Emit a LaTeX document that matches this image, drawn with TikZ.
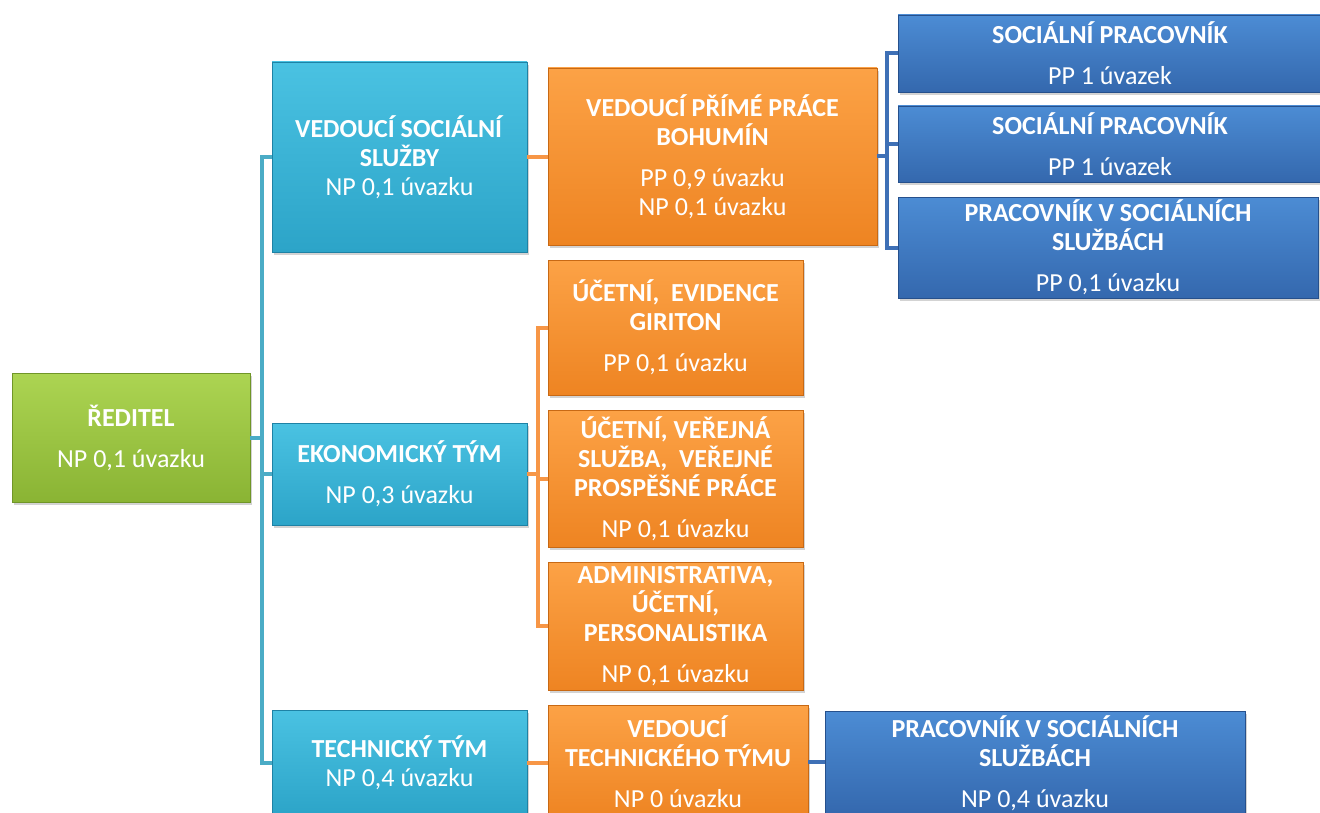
\documentclass[tikz,border=0pt]{standalone}
\usepackage{fontspec}
\setmainfont{Carlito}
\usetikzlibrary{shadows}
\definecolor{greenT}{RGB}{172,212,82}
\definecolor{greenB}{RGB}{138,180,52}
\definecolor{greenD}{RGB}{112,150,40}
\definecolor{tealT}{RGB}{74,194,226}
\definecolor{tealB}{RGB}{44,164,200}
\definecolor{tealD}{RGB}{30,130,165}
\definecolor{orangeT}{RGB}{252,162,70}
\definecolor{orangeB}{RGB}{238,132,34}
\definecolor{orangeD}{RGB}{200,105,20}
\definecolor{blueT}{RGB}{76,140,212}
\definecolor{blueB}{RGB}{52,104,174}
\definecolor{blueD}{RGB}{38,80,140}
\definecolor{tealL}{RGB}{75,172,198}
\definecolor{orangeL}{RGB}{247,150,70}
\definecolor{blueL}{RGB}{62,112,182}
\tikzset{
  box/.style={rectangle, text=white, align=center, inner sep=2pt,
    font=\fontsize{19.5}{21.75}\selectfont,
    drop shadow={shadow xshift=1.5pt, shadow yshift=-2pt, opacity=0.35}},
  boxsize/.style 2 args={minimum width=#1*0.75pt, minimum height=#2*0.75pt},
  greenbox/.style={box, top color=greenT, bottom color=greenB, draw=greenD},
  tealbox/.style={box, top color=tealT, bottom color=tealB, draw=tealD},
  orangebox/.style={box, top color=orangeT, bottom color=orangeB, draw=orangeD},
  bluebox/.style={box, top color=blueT, bottom color=blueB, draw=blueD},
  link/.style={line width=3pt},
  tline/.style={link, draw=tealL},
  oline/.style={link, draw=orangeL},
  bline/.style={link, draw=blueL}
}
\begin{document}
\begin{tikzpicture}[x=0.75pt,y=-0.75pt]
  \clip (0,0) rectangle (1320,813);
  % director
  \node[greenbox, boxsize={238}{129}] (reditel) at (131,437.5)
    {\textbf{ŘEDITEL}\\[9pt]NP 0,1 úvazku};
  % teams
  \node[tealbox, boxsize={255}{190}] (vss) at (399.5,157)
    {\textbf{VEDOUCÍ SOCIÁLNÍ}\\\textbf{SLUŽBY}\\NP 0,1 úvazku};
  \node[tealbox, boxsize={255}{102}] (ekon) at (399.5,474)
    {\textbf{EKONOMICKÝ TÝM}\\[9pt]NP 0,3 úvazku};
  \node[tealbox, boxsize={255}{106}] (tech) at (399.5,763)
    {\textbf{TECHNICKÝ TÝM}\\NP 0,4 úvazku};
  % second level
  \node[orangebox, boxsize={329}{177}] (vpp) at (712.5,156.5)
    {\textbf{VEDOUCÍ PŘÍMÉ PRÁCE}\\\textbf{BOHUMÍN}\\[9pt]PP 0,9 úvazku\\NP 0,1 úvazku};
  \node[orangebox, boxsize={255}{135}] (uc1) at (675.5,327.5)
    {\textbf{ÚČETNÍ,~ EVIDENCE}\\\textbf{GIRITON}\\[9pt]PP 0,1 úvazku};
  \node[orangebox, boxsize={255}{137}] (uc2) at (675.5,478.5)
    {\textbf{ÚČETNÍ, VEŘEJNÁ}\\\textbf{SLUŽBA,~ VEŘEJNÉ}\\\textbf{PROSPĚŠNÉ PRÁCE}\\[9pt]NP 0,1 úvazku};
  \node[orangebox, boxsize={255}{128}] (admin) at (675.5,626)
    {\textbf{ADMINISTRATIVA,}\\\textbf{ÚČETNÍ,}\\\textbf{PERSONALISTIKA}\\[9pt]NP 0,1 úvazku};
  \node[orangebox, boxsize={260}{114}] (vtt) at (678,762)
    {\textbf{VEDOUCÍ}\\\textbf{TECHNICKÉHO TÝMU}\\[9pt]NP 0 úvazku};
  % staff
  \node[bluebox, boxsize={424}{77}] (sp1) at (1110,53.5)
    {\textbf{SOCIÁLNÍ PRACOVNÍK}\\[9pt]PP 1 úvazek};
  \node[bluebox, boxsize={424}{76}] (sp2) at (1110,144)
    {\textbf{SOCIÁLNÍ PRACOVNÍK}\\[9pt]PP 1 úvazek};
  \node[bluebox, boxsize={420}{101}] (pss1) at (1108,247.5)
    {\textbf{PRACOVNÍK V SOCIÁLNÍCH}\\\textbf{SLUŽBÁCH}\\[9pt]PP 0,1 úvazku};
  \node[bluebox, boxsize={420}{104}] (pss2) at (1035,763)
    {\textbf{PRACOVNÍK V SOCIÁLNÍCH}\\\textbf{SLUŽBÁCH}\\[9pt]NP 0,4 úvazku};
  % bus points
  \coordinate (t1) at (262,157);
  \coordinate (t2) at (262,763);
  \coordinate (o1) at (538,327.5);
  \coordinate (o2) at (538,626);
  \coordinate (b1) at (887,53.5);
  \coordinate (b2) at (887,247.5);
  % connectors
  \draw[tline] (vss.west) -- (t1) -- (t2) -- (tech.west);
  \draw[tline] (reditel.east) -- (reditel.east -| t1);
  \draw[tline] (ekon.west) -- (ekon.west -| t1);
  \draw[oline] (vss.east) -- (vss.east -| vpp.west);
  \draw[oline] (uc1.west) -- (o1) -- (o2) -- (admin.west);
  \draw[oline] (ekon.east) -- (ekon.east -| o1);
  \draw[oline] (uc2.west) -- (uc2.west -| o1);
  \draw[oline] (tech.east) -- (tech.east -| vtt.west);
  \draw[bline] (sp1.west) -- (b1) -- (b2) -- (pss1.west);
  \draw[bline] (vpp.east) -- (vpp.east -| b1);
  \draw[bline] (sp2.west) -- (sp2.west -| b1);
  \draw[bline] (vtt.east) -- (vtt.east -| pss2.west);
\end{tikzpicture}
\end{document}
